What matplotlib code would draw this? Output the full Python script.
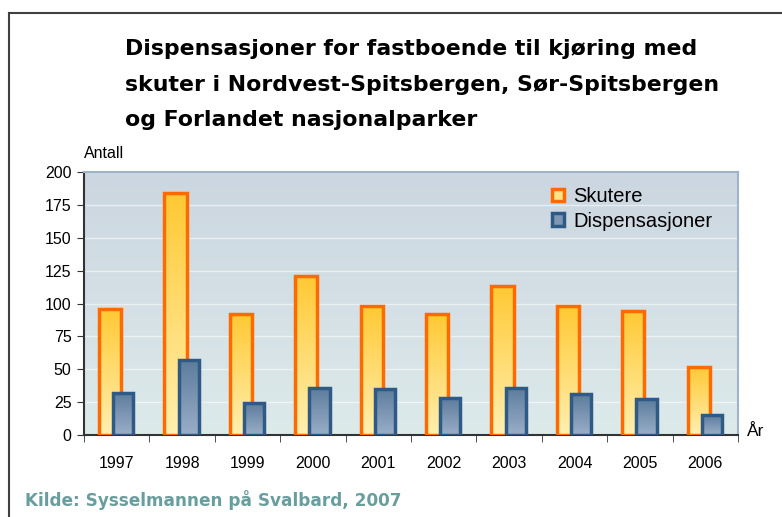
import numpy as np
import matplotlib
matplotlib.use("Agg")
import matplotlib.pyplot as plt
from matplotlib.colors import LinearSegmentedColormap
from matplotlib.patches import Rectangle
from matplotlib.lines import Line2D

plt.rcParams['font.family'] = ['Liberation Sans', 'DejaVu Sans']

years = ['1997', '1998', '1999', '2000', '2001', '2002', '2003', '2004', '2005', '2006']
skutere = [96, 184, 92, 121, 98, 92, 113, 98, 94, 52]
dispensasjoner = [32, 57, 24, 36, 35, 28, 36, 31, 27, 15]
y_ticks = [0, 25, 50, 75, 100, 125, 150, 175, 200]

title_lines = ["Dispensasjoner for fastboende til kjøring med",
               "skuter i Nordvest-Spitsbergen, Sør-Spitsbergen",
               "og Forlandet nasjonalparker"]
source = "Kilde: Sysselmannen på Svalbard, 2007"

fig = plt.figure(figsize=(7.82, 5.17), dpi=100)
ax = fig.add_axes([84/782, 1-435/517, (738-84)/782, (435-172)/517])

# figure frame lines (left and top)
fig.add_artist(Line2D([9/782, 9/782], [0, 1-13/517], color='#404040', lw=1.5, transform=fig.transFigure))
fig.add_artist(Line2D([9/782, 1], [1-13/517, 1-13/517], color='#404040', lw=1.5, transform=fig.transFigure))

# background gradient
bg = LinearSegmentedColormap.from_list('bg', ['#DDEAEA', '#CBD6E0'])
grad = np.linspace(0, 1, 256).reshape(-1, 1)
ax.imshow(grad, cmap=bg, origin='lower', extent=[0, 1, 0, 1], transform=ax.transAxes,
          aspect='auto', zorder=0)

x = np.arange(len(years))
w_s = 0.34
w_d = 0.31
off = 0.1

orange_cm = LinearSegmentedColormap.from_list('or', ['#FFEFB0', '#FFC934'])
blue_cm = LinearSegmentedColormap.from_list('bl', ['#9AAEC8', '#5C7C9C'])

def grad_bars(xs, vals, width, cmap, edge, z):
    bars = ax.bar(xs, vals, width=width, facecolor='none', edgecolor=edge, linewidth=2.5, zorder=z + 0.5)
    for b in bars:
        bx, by = b.get_x(), b.get_y()
        bw, bh = b.get_width(), b.get_height()
        im = ax.imshow(grad[::-1], cmap=cmap, origin='upper', extent=[bx, bx + bw, by, by + bh],
                       aspect='auto', zorder=z)
        clip = Rectangle((bx, by), bw, bh, transform=ax.transData)
        im.set_clip_path(clip)
    return bars

grad_bars(x - off, skutere, w_s, orange_cm, '#FF6A00', 3)
grad_bars(x + off, dispensasjoner, w_d, blue_cm, '#2F5A86', 5)

ax.set_xlim(-0.5, len(years) - 0.5)
ax.set_ylim(0, 200)
ax.set_yticks(y_ticks)
ax.set_yticklabels([str(v) for v in y_ticks], fontsize=11.5)
ax.set_xticks(x)
ax.set_xticklabels(years, fontsize=11.5)
ax.set_xticks(np.arange(-0.5, len(years), 1.0), minor=True)
ax.tick_params(axis='x', which='major', length=0, pad=15)
ax.tick_params(axis='x', which='minor', length=5, color='#333333', direction='out')
ax.tick_params(axis='y', length=5, color='#333333', direction='out', pad=4)

for yv in y_ticks[1:-1]:
    ax.axhline(yv, color='white', lw=1, alpha=0.55, zorder=1)

ax.spines['left'].set_color('#333333')
ax.spines['bottom'].set_color('#333333')
ax.spines['left'].set_linewidth(1.5)
ax.spines['bottom'].set_linewidth(1.5)
ax.spines['top'].set_color('#9FB3C9')
ax.spines['right'].set_color('#9FB3C9')
ax.spines['top'].set_linewidth(1.5)
ax.spines['right'].set_linewidth(1.5)

handles = [Rectangle((0, 0), 1, 1, facecolor='#FFE38A', edgecolor='#FF6A00', lw=2.5),
           Rectangle((0, 0), 1, 1, facecolor='#7F97B3', edgecolor='#2F5A86', lw=2.5)]
leg = ax.legend(handles, ['Skutere', 'Dispensasjoner'], loc='upper left',
                bbox_to_anchor=((542 - 84) / (738 - 84), 1 - (177 - 172) / 263),
                frameon=False, fontsize=14.5, handlelength=0.6, handleheight=0.6,
                handletextpad=0.45, labelspacing=0.28, borderpad=0)

fig.text(84/782, 1-153/517, 'Antall', fontsize=11.5, ha='left', va='center')
fig.text(747/782, 1-432/517, 'År', fontsize=12.5, ha='left', va='center')

for line, yc in zip(title_lines, [49, 85, 120]):
    fig.text(125/782, 1-yc/517, line, fontsize=15.85, fontweight='bold', ha='left', va='center',
             family=['DejaVu Sans'])

fig.text(25/782, 1-500/517, source, fontsize=12.2, fontweight='bold', color='#6A9E9E',
         ha='left', va='center', family=['DejaVu Sans'])

fig.savefig('out.png', dpi=100)
